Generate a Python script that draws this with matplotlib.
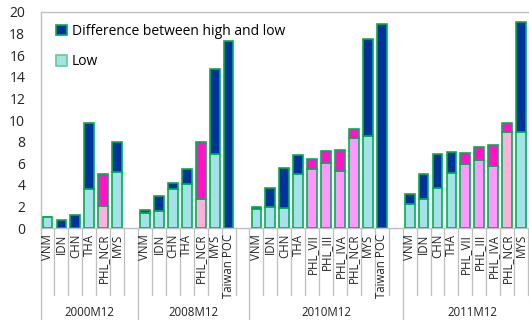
import matplotlib.pyplot as plt
import numpy as np

# one entry per period; a blank slot closes each group
periods = ["2000M12", "2008M12", "2010M12", "2011M12"]

cats_2000 = ["VNM", "IDN", "CHN", "THA", "PHL_NCR", "MYS"]
low_2000 = [1.00, 0.05, 0.05, 3.66, 2.06, 5.23]
diff_2000 = [0.05, 0.72, 1.18, 6.03, 2.98, 2.71]

cats_2008 = ["VNM", "IDN", "CHN", "THA", "PHL_NCR", "MYS", "Taiwan POC"]
low_2008 = [1.38, 1.60, 3.66, 4.06, 2.71, 6.86, 0.0]
diff_2008 = [0.31, 1.41, 0.49, 1.42, 5.23, 7.85, 17.32]

cats_2010 = ["VNM", "IDN", "CHN", "THA", "PHL_VII", "PHL_III", "PHL_IVA",
             "PHL_NCR", "MYS", "Taiwan POC"]
low_2010 = [1.75, 1.94, 1.87, 5.01, 5.45, 6.06, 5.32, 8.37, 8.52, 0.0]
diff_2010 = [0.25, 1.81, 3.67, 1.76, 0.98, 1.11, 1.88, 0.80, 8.93, 18.86]

cats_2011 = ["VNM", "IDN", "CHN", "THA", "PHL_VII", "PHL_III", "PHL_IVA",
             "PHL_NCR", "MYS"]
low_2011 = [2.22, 2.68, 3.69, 5.08, 5.94, 6.31, 5.75, 8.89, 8.89]
diff_2011 = [0.92, 2.31, 3.20, 1.99, 1.01, 1.23, 1.94, 0.83, 10.13]

groups = [
    (cats_2000, low_2000, diff_2000, 7),
    (cats_2008, low_2008, diff_2008, 8),
    (cats_2010, low_2010, diff_2010, 11),
    (cats_2011, low_2011, diff_2011, 10),
]

# colours
navy = "#003399"
cyan = "#A6E0E8"
violet = "#FF99FF"
pink = "#FFB0DC"
magenta = "#FF14C8"
green = "#00B050"
sep = "#BFBFBF"

W, H = 529, 320
fig = plt.figure(figsize=(W / 100, H / 100), dpi=100)
plt.rcParams["font.family"] = ["Open Sans", "DejaVu Sans"]

n_slots = sum(g[3] for g in groups)
slot_px = 13.93
x0, y_top, y_bot = 40.5, 11.7, 228.3
ax = fig.add_axes([x0 / W, 1 - y_bot / H, n_slots * slot_px / W,
                   (y_bot - y_top) / H])
ax.set_xlim(0, n_slots)
ax.set_ylim(0, 20)

start = 0
trans = ax.get_xaxis_transform()
ax_h = y_bot - y_top
short_y = -(295 - y_bot) / ax_h
long_y = -(H - y_bot) / ax_h
for gi, (cats, low, diff, nslot) in enumerate(groups):
    xs = start + np.arange(len(cats)) + 0.5
    low_cols, diff_cols = [], []
    for c in cats:
        if c.startswith("PHL"):
            low_cols.append(pink if (c == "PHL_NCR" and gi != 2) else violet)
            diff_cols.append(magenta)
        else:
            low_cols.append(cyan)
            diff_cols.append(navy)
    ax.bar(xs, low, width=0.7, color=low_cols, edgecolor=green, linewidth=1.2,
           zorder=3)
    ax.bar(xs, diff, bottom=low, width=0.7, color=diff_cols, edgecolor=green,
           linewidth=1.2, zorder=3)
    for x, c in zip(xs, cats):
        ax.text(x, -0.025, c, transform=trans, rotation=90, ha="center",
                va="top", fontsize=8.3, color="#222222")
    # category dividers
    for k in range(1, nslot):
        ax.plot([start + k, start + k], [0, short_y], transform=trans,
                color=sep, lw=0.9, clip_on=False)
    ax.plot([start, start], [0, long_y], transform=trans, color=sep,
            lw=0.9, clip_on=False)
    ax.text(start + nslot / 2, -(312 - y_bot) / ax_h, periods[gi],
            transform=trans, ha="center", va="center", fontsize=8.3,
            color="#222222")
    start += nslot

for s in ax.spines.values():
    s.set_color(sep)
    s.set_linewidth(1.0)
ax.set_xticks([])
ax.set_yticks(range(0, 21, 2))
ax.tick_params(axis="y", length=0, pad=11, labelsize=10, labelcolor="#222222")

# legend drawn as plain patches
from matplotlib.patches import Patch
handles = [Patch(facecolor=navy, edgecolor=green, linewidth=1.2),
           Patch(facecolor=cyan, edgecolor="#66CC88", linewidth=1.2)]
ax.legend(handles, ["Difference between high and low", "Low"],
          loc="upper left", bbox_to_anchor=(0.02, 0.97), frameon=False,
          fontsize=10, handlelength=0.8, handleheight=0.8, handletextpad=0.35,
          labelspacing=1.1, borderaxespad=0)

fig.savefig("out.png", dpi=100)
